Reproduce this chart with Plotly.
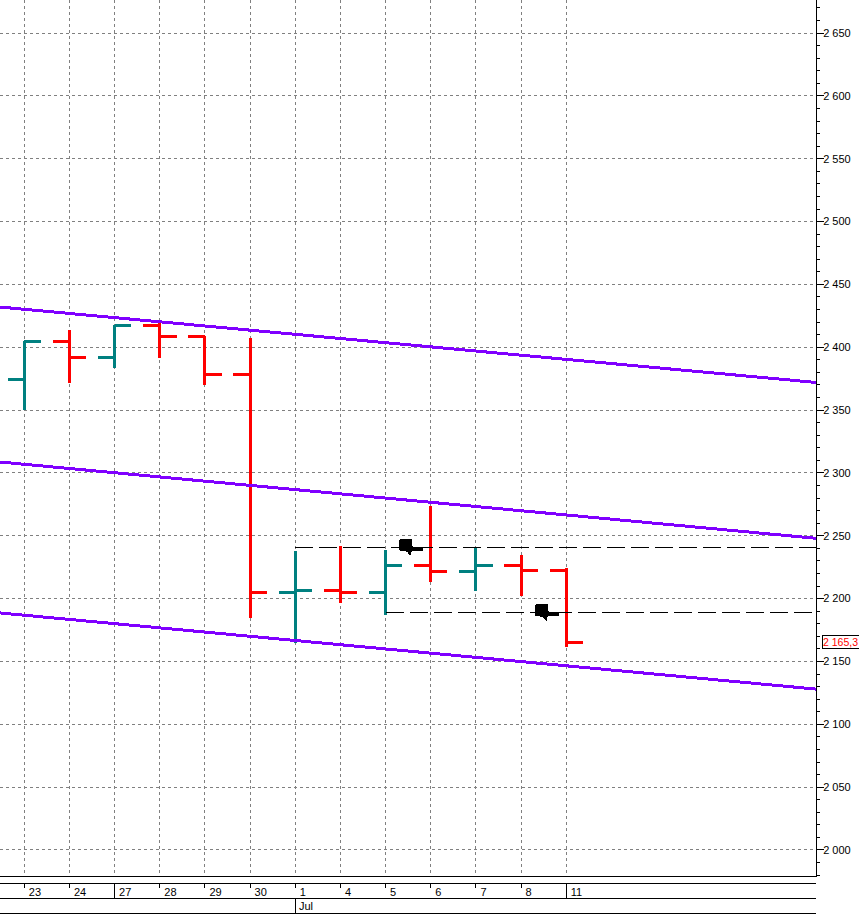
import plotly.graph_objects as go

# daily bars
days = ['23', '24', '27', '28', '29', '30', '1', '4', '5', '6', '7', '8', '11']
day_idx = list(range(len(days)))
opens = [2374, 2404.7, 2392, 2417.4, 2408.6, 2378.4, 2205, 2206.8, 2205, 2226.5, 2221.6, 2226.5, 2222]
highs = [2405, 2414, 2417.7, 2419, 2408.6, 2407, 2238, 2241.9, 2238.7, 2273.7, 2240.5, 2234.7, 2224.4]
lows = [2350, 2371.5, 2383.7, 2391.6, 2370, 2184.6, 2165, 2196.5, 2187, 2213, 2206, 2202, 2161.7]
closes = [2404.7, 2392, 2417.7, 2408.6, 2378.4, 2205, 2206.8, 2205, 2226.5, 2221.6, 2226.5, 2222, 2165.3]

# regression channel
x_min, x_max = -0.538, 17.53
channel_x = [x_min, x_max]
channel_top = [2432, 2372]
channel_mid = [2308.7, 2248]
channel_low = [2188.6, 2128]

# horizontal levels
level_values = [2241, 2189]
level_starts = [6, 8]

# hand markers
hand_x = [8.3, 11.31]
hand_y = [2240, 2188]

week_starts = [2, 12]  # long ticks
last_price = 2165.3

W, H = 859, 916
BOTTOM = 876
RIGHT = 816


def py(pixel):
    return (BOTTOM - pixel) / BOTTOM


fig = go.Figure()

for ys in [channel_top, channel_mid, channel_low]:
    fig.add_trace(go.Scatter(x=channel_x, y=ys, mode='lines', line=dict(color='#8000ff', width=3),
                             hoverinfo='skip', showlegend=False))

for start, level in zip(level_starts, level_values):
    fig.add_trace(go.Scatter(x=[start, x_max], y=[level, level], mode='lines',
                             line=dict(color='black', width=1, dash='18px,6px'),
                             hoverinfo='skip', showlegend=False))

fig.add_trace(go.Ohlc(x=day_idx, open=opens, high=highs, low=lows, close=closes,
                      increasing=dict(line=dict(color='#008080', width=3)),
                      decreasing=dict(line=dict(color='#ff0000', width=3)),
                      tickwidth=0.37, showlegend=False))

# hand glyph, in pixels from its anchor
hand_path = ('M 1.5 9.5 L 12.5 9.5 L 12.5 4 L 14 1.5 L 23.5 1.5 L 23.5 -2.2 L 12.5 -2.5 '
             'L 12 -7 L 10 -6.5 L 8 -3.5 L 4 -2.5 L 0 -2 L 0 8 Z')
for hx, hy in zip(hand_x, hand_y):
    fig.add_shape(type='path', xsizemode='pixel', ysizemode='pixel', xanchor=hx, yanchor=hy,
                  xref='x', yref='y', path=hand_path, fillcolor='black', line=dict(width=0))

# date band under the plot
for pixel in [883, 898, 913]:
    fig.add_shape(type='line', xref='paper', yref='paper', x0=0, x1=1, y0=py(pixel), y1=py(pixel),
                  line=dict(color='black', width=1))
for i in day_idx:
    bottom = 898 if i in week_starts else 888
    fig.add_shape(type='line', xref='x', yref='paper', x0=i, x1=i, y0=py(883), y1=py(bottom),
                  line=dict(color='black', width=1))
fig.add_shape(type='line', xref='x', yref='paper', x0=6, x1=6, y0=py(898), y1=py(913),
              line=dict(color='black', width=1))
fig.add_annotation(text='Jul', xref='x', yref='paper', x=6, y=py(905.5), xanchor='left', yanchor='middle',
                   xshift=2, showarrow=False, font=dict(family='Liberation Sans', size=11, color='black'))

# last price box
fig.add_annotation(text='2 165,3', xref='paper', yref='y', x=822 / RIGHT, y=last_price,
                   xanchor='left', yanchor='middle', showarrow=False, align='left',
                   font=dict(family='Liberation Sans', size=10.5, color='#ff0000'),
                   bgcolor='white', bordercolor='black', borderwidth=1, borderpad=0, width=40, height=12)

fig.update_layout(
    width=W, height=H,
    margin=dict(l=0, r=W - RIGHT, t=0, b=H - BOTTOM, pad=0),
    paper_bgcolor='white', plot_bgcolor='white',
    separators='. ',
    font=dict(family='Liberation Sans', size=11, color='black'),
    showlegend=False,
    xaxis=dict(range=[x_min, x_max], rangeslider=dict(visible=False), tickmode='array',
               tickvals=day_idx, ticktext=days, ticks='', ticklabelposition='outside right',
               ticklabelstandoff=6, ticklabelshift=4, showgrid=True, gridcolor='#808080',
               griddash='3px,3px', gridwidth=1, showline=True, linecolor='black', linewidth=1,
               zeroline=False),
    yaxis=dict(range=[1979.3, 2676.3], side='right', dtick=50, tick0=2000, tickformat=',d',
               ticks='outside', ticklen=7, tickcolor='black', tickwidth=1, ticklabelstandoff=-3,
               minor=dict(dtick=10, tick0=2000, ticks='outside', ticklen=3, tickcolor='black',
                          tickwidth=1, showgrid=False),
               showgrid=True, gridcolor='#808080', griddash='3px,3px', gridwidth=1,
               showline=True, linecolor='black', linewidth=1, zeroline=False),
)

# old chart look: no antialiasing on the lines
crisp = ("document.body.style.margin='0';"
         "var s=document.createElement('style');"
         "s.textContent='.main-svg path{shape-rendering:crispEdges !important}';"
         "document.head.appendChild(s);")
fig.write_html("out.html", post_script=crisp, config=dict(displayModeBar=False))
